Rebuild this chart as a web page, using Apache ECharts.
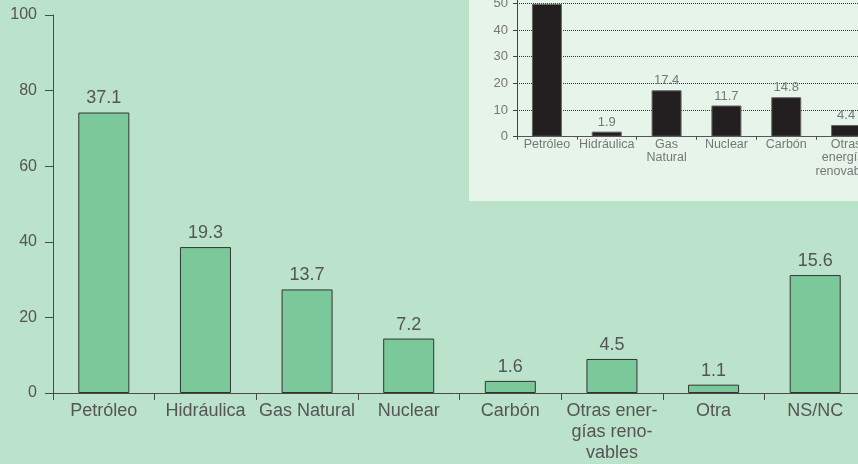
<!DOCTYPE html>
<html>
<head>
<meta charset="utf-8">
<script src="https://cdn.jsdelivr.net/npm/echarts@6/dist/echarts.min.js"></script>
<style>
  html, body { margin: 0; padding: 0; background: #bbe2ca; overflow: hidden; }
  #chart { width: 858px; height: 464px; }
</style>
</head>
<body>
<div id="chart"></div>
<script>
// Main survey: share of answers per energy source (%)
const categories = ['Petróleo', 'Hidráulica', 'Gas Natural', 'Nuclear', 'Carbón', 'Otras ener-\ngías reno-\nvables', 'Otra', 'NS/NC'];
const values = [37.1, 19.3, 13.7, 7.2, 1.6, 4.5, 1.1, 15.6];
// Printed tick labels on the main value axis
const yTickLabels = ['0', '20', '40', '60', '80', '100'];

// Inset comparison chart
const insetCategories = ['Petróleo', 'Hidráulica', 'Gas\nNatural', 'Nuclear', 'Carbón', 'Otras\nenergías\nrenovables'];
const insetValues = [49.8, 1.9, 17.4, 11.7, 14.8, 4.4];

const FONT = '"Liberation Sans", "DejaVu Sans", sans-serif';
const chart = echarts.init(document.getElementById('chart'), null, { renderer: 'canvas' });

chart.setOption({
  backgroundColor: '#bbe2ca',
  animation: false,
  graphic: [{
    type: 'rect',
    z: -10,
    silent: true,
    shape: { x: 469, y: 0, width: 389, height: 201 },
    style: { fill: '#e6f4ea' }
  }],
  grid: [
    { left: 53, top: 15, width: 813, height: 378, containLabel: false, outerBoundsMode: 'none' },
    { left: 517, top: -23.3, width: 359, height: 160, containLabel: false, outerBoundsMode: 'none' }
  ],
  xAxis: [
    {
      type: 'category', gridIndex: 0, data: categories,
      axisLine: { lineStyle: { color: '#4a4a4a', width: 1 } },
      axisTick: { show: true, length: 7, lineStyle: { color: '#4a4a4a' } },
      axisLabel: { interval: 0, margin: 8, color: '#555', fontFamily: FONT, fontSize: 18, lineHeight: 21 }
    },
    {
      type: 'category', gridIndex: 1, data: insetCategories,
      axisLine: { lineStyle: { color: '#555', width: 1 } },
      axisTick: { show: true, length: 3, lineStyle: { color: '#444' } },
      axisLabel: { interval: 0, margin: 1, color: '#777', fontFamily: FONT, fontSize: 12.5, lineHeight: 13.5 }
    }
  ],
  yAxis: [
    {
      type: 'value', gridIndex: 0, min: 0, max: 50, interval: 10,
      axisLine: { show: true, lineStyle: { color: '#4a4a4a', width: 1 } },
      axisTick: { show: true, length: 8, lineStyle: { color: '#4a4a4a' } },
      splitLine: { show: false },
      axisLabel: {
        margin: 16, color: '#555', fontFamily: FONT, fontSize: 16,
        formatter: (v) => yTickLabels[Math.round(v / 10)]
      }
    },
    {
      type: 'value', gridIndex: 1, min: 0, max: 60, interval: 10,
      axisLine: { show: true, lineStyle: { color: '#444', width: 1 } },
      axisTick: { show: true, length: 4, lineStyle: { color: '#444' } },
      splitLine: { show: true, lineStyle: { color: '#333', type: [1, 1], width: 1 } },
      axisLabel: { margin: 9, color: '#777', fontFamily: FONT, fontSize: 13 }
    }
  ],
  series: [
    {
      type: 'bar', xAxisIndex: 0, yAxisIndex: 0, data: values,
      barWidth: 51,
      itemStyle: { color: '#7bc99b', borderColor: '#333', borderWidth: 1 },
      label: { show: true, position: 'top', distance: 5, color: '#555', fontFamily: FONT, fontSize: 18 }
    },
    {
      type: 'bar', xAxisIndex: 1, yAxisIndex: 1, data: insetValues,
      barWidth: 30,
      itemStyle: { color: '#231f20', borderColor: '#666', borderWidth: 1 },
      label: { show: true, position: 'top', distance: 3, color: '#777', fontFamily: FONT, fontSize: 13 }
    }
  ]
});
</script>
</body>
</html>
